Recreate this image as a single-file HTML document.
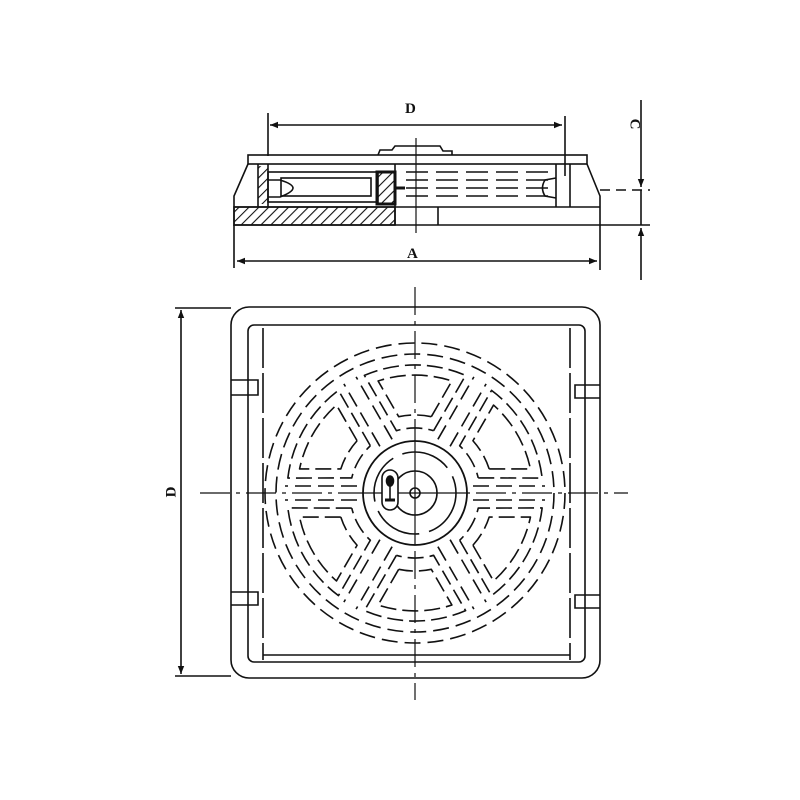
<!DOCTYPE html>
<html><head><meta charset="utf-8"><style>
html,body{margin:0;padding:0;background:#fff;width:800px;height:800px;overflow:hidden}
svg{display:block}
text{font-family:"Liberation Serif",serif;font-weight:bold;font-size:15px;fill:#111}
</style></head><body>
<svg width="800" height="800" viewBox="0 0 800 800" xmlns="http://www.w3.org/2000/svg">
<defs>
<marker id="ar" viewBox="0 0 10 10" refX="10" refY="5" markerWidth="10" markerHeight="8" orient="auto-start-reverse" markerUnits="userSpaceOnUse"><path d="M0,1 L10,5 L0,9 Z" fill="#111"/></marker>
<pattern id="hatch" width="7" height="7" patternUnits="userSpaceOnUse" patternTransform="rotate(45)"><line x1="0" y1="0" x2="0" y2="7" stroke="#111" stroke-width="2.2"/></pattern>
<g id="pk" stroke-dasharray="16 6" stroke-linejoin="round">
<path d="M-18.6,62.3 L-50.6,117.6 A128,128 0 0 0 50.6,117.6 L18.6,62.3 A65,65 0 0 1 -18.6,62.3"/>
<path d="M-16.3,76.3 L-36.9,112 A118,118 0 0 0 36.9,112 L16.3,76.3 A78,78 0 0 1 -16.3,76.3"/>
</g>
</defs>
<g fill="none" stroke="#111" stroke-width="1.6">
<!-- TOP VIEW -->
<line x1="268" y1="113" x2="268" y2="156"/>
<line x1="565" y1="116" x2="565" y2="176"/>
<line x1="270" y1="125" x2="562" y2="125" marker-start="url(#ar)" marker-end="url(#ar)"/>
<rect x="248" y="155" width="339" height="9"/>
<path d="M378,155 L380,150 L392,150 L395,146 L440,146 L443,151 L452,151 L452,155"/>
<path d="M248,164 L234,196 L234,225 L600,225 L600,196 L587,164"/>
<line x1="234" y1="207" x2="600" y2="207"/>
<rect x="234" y="207" width="161" height="18" fill="url(#hatch)"/>
<line x1="395" y1="164" x2="395" y2="225"/>
<line x1="438" y1="207" x2="438" y2="225"/>
<rect x="258" y="166" width="10" height="38" fill="url(#hatch)" stroke="none"/>
<line x1="268" y1="164" x2="268" y2="207"/>
<line x1="258" y1="164" x2="258" y2="207"/>
<rect x="268" y="172" width="110" height="30"/>
<rect x="281" y="178" width="90" height="18"/>
<path d="M268,180 L280,180 Q293,184 293,188 Q293,192 280,197 L268,197"/>
<rect x="377" y="172" width="18" height="32" fill="url(#hatch)" stroke-width="3"/>
<line x1="395" y1="188" x2="405" y2="188" stroke-width="3"/>
<path d="M406,172 H556 M406,180 H556 M406,188 H556 M406,196 H556" stroke-dasharray="22 8"/>
<line x1="556" y1="164" x2="556" y2="207"/>
<line x1="570" y1="164" x2="570" y2="207"/>
<path d="M556,178 L545,180 Q540,188 545,196 L556,198"/>
<line x1="416" y1="138" x2="416" y2="233" stroke-width="1.2"/>
<!-- A -->
<line x1="234" y1="225" x2="234" y2="268"/>
<line x1="600" y1="225" x2="600" y2="270"/>
<line x1="237" y1="261" x2="597" y2="261" marker-start="url(#ar)" marker-end="url(#ar)"/>
<!-- C -->
<line x1="641" y1="100" x2="641" y2="187" marker-end="url(#ar)"/>
<line x1="641" y1="280" x2="641" y2="228" marker-end="url(#ar)"/>
<line x1="641" y1="190" x2="641" y2="225"/>
<line x1="600" y1="190" x2="650" y2="190" stroke-dasharray="10 6"/>
<line x1="600" y1="225" x2="650" y2="225"/>
<!-- PLAN VIEW -->
<rect x="231" y="307" width="369" height="371" rx="18"/>
<rect x="248" y="325" width="337" height="337" rx="6"/>
<line x1="263" y1="328" x2="263" y2="660" stroke-dasharray="40 5"/>
<line x1="570" y1="328" x2="570" y2="660" stroke-dasharray="40 5"/>
<line x1="263" y1="655" x2="570" y2="655"/>
<path d="M231,380 H258 V395 H231 M231,592 H258 V605 H231 M600,385 H575 V398 H600 M600,595 H575 V608 H600"/>
<line x1="175" y1="308" x2="231" y2="308"/>
<line x1="175" y1="676" x2="231" y2="676"/>
<line x1="181" y1="310" x2="181" y2="674" marker-start="url(#ar)" marker-end="url(#ar)"/>
<line x1="415" y1="287" x2="415" y2="700" stroke-width="1.2" stroke-dasharray="28 6 4 6"/>
<line x1="200" y1="493" x2="628" y2="493" stroke-width="1.2" stroke-dasharray="30 6 4 6"/>
<g stroke-dasharray="16 7">
<circle cx="415" cy="493" r="150"/>
<circle cx="415" cy="493" r="139"/>
<line x1="473" y1="486" x2="545" y2="486"/><line x1="473" y1="500" x2="545" y2="500"/>
<line x1="357" y1="486" x2="285" y2="486"/><line x1="357" y1="500" x2="285" y2="500"/>
<line x1="437.9" y1="546.7" x2="473.9" y2="609.1"/><line x1="450.1" y1="539.7" x2="486.1" y2="602.1"/>
<line x1="379.9" y1="539.7" x2="343.9" y2="602.1"/><line x1="392.1" y1="546.7" x2="356.1" y2="609.1"/>
<line x1="392.1" y1="439.3" x2="356.1" y2="376.9"/><line x1="379.9" y1="446.3" x2="343.9" y2="383.9"/>
<line x1="450.1" y1="446.3" x2="486.1" y2="383.9"/><line x1="437.9" y1="439.3" x2="473.9" y2="376.9"/>
</g>
<g transform="translate(415,493)">
<use href="#pk" transform="rotate(-60)"/>
<use href="#pk"/>
<use href="#pk" transform="rotate(60)"/>
<use href="#pk" transform="rotate(120)"/>
<use href="#pk" transform="rotate(180)"/>
<use href="#pk" transform="rotate(240)"/>
</g>
<circle cx="415" cy="493" r="52" stroke-width="1.8" fill="#fff"/>
<circle cx="415" cy="493" r="41" stroke-dasharray="50 10"/>
<circle cx="415" cy="493" r="22"/>
<circle cx="415" cy="493" r="5"/>
<line x1="363" y1="493" x2="467" y2="493" stroke-width="1.2"/>
<line x1="415" y1="441" x2="415" y2="545" stroke-width="1.2"/>
<rect x="382" y="470" width="16" height="40" rx="8" fill="#fff"/>
<ellipse cx="390" cy="481" rx="3.5" ry="5" fill="#111"/>
<line x1="390" y1="486" x2="390" y2="500"/>
<line x1="385" y1="500" x2="395" y2="500" stroke-width="3"/>
</g>
<text x="405" y="113">D</text>
<text x="407" y="258">A</text>
<text x="634" y="124" transform="rotate(90 634 124)" text-anchor="middle" dominant-baseline="middle">C</text>
<text x="172" y="492" transform="rotate(-90 172 492)" text-anchor="middle" dominant-baseline="middle">D</text>
</svg>
</body></html>
